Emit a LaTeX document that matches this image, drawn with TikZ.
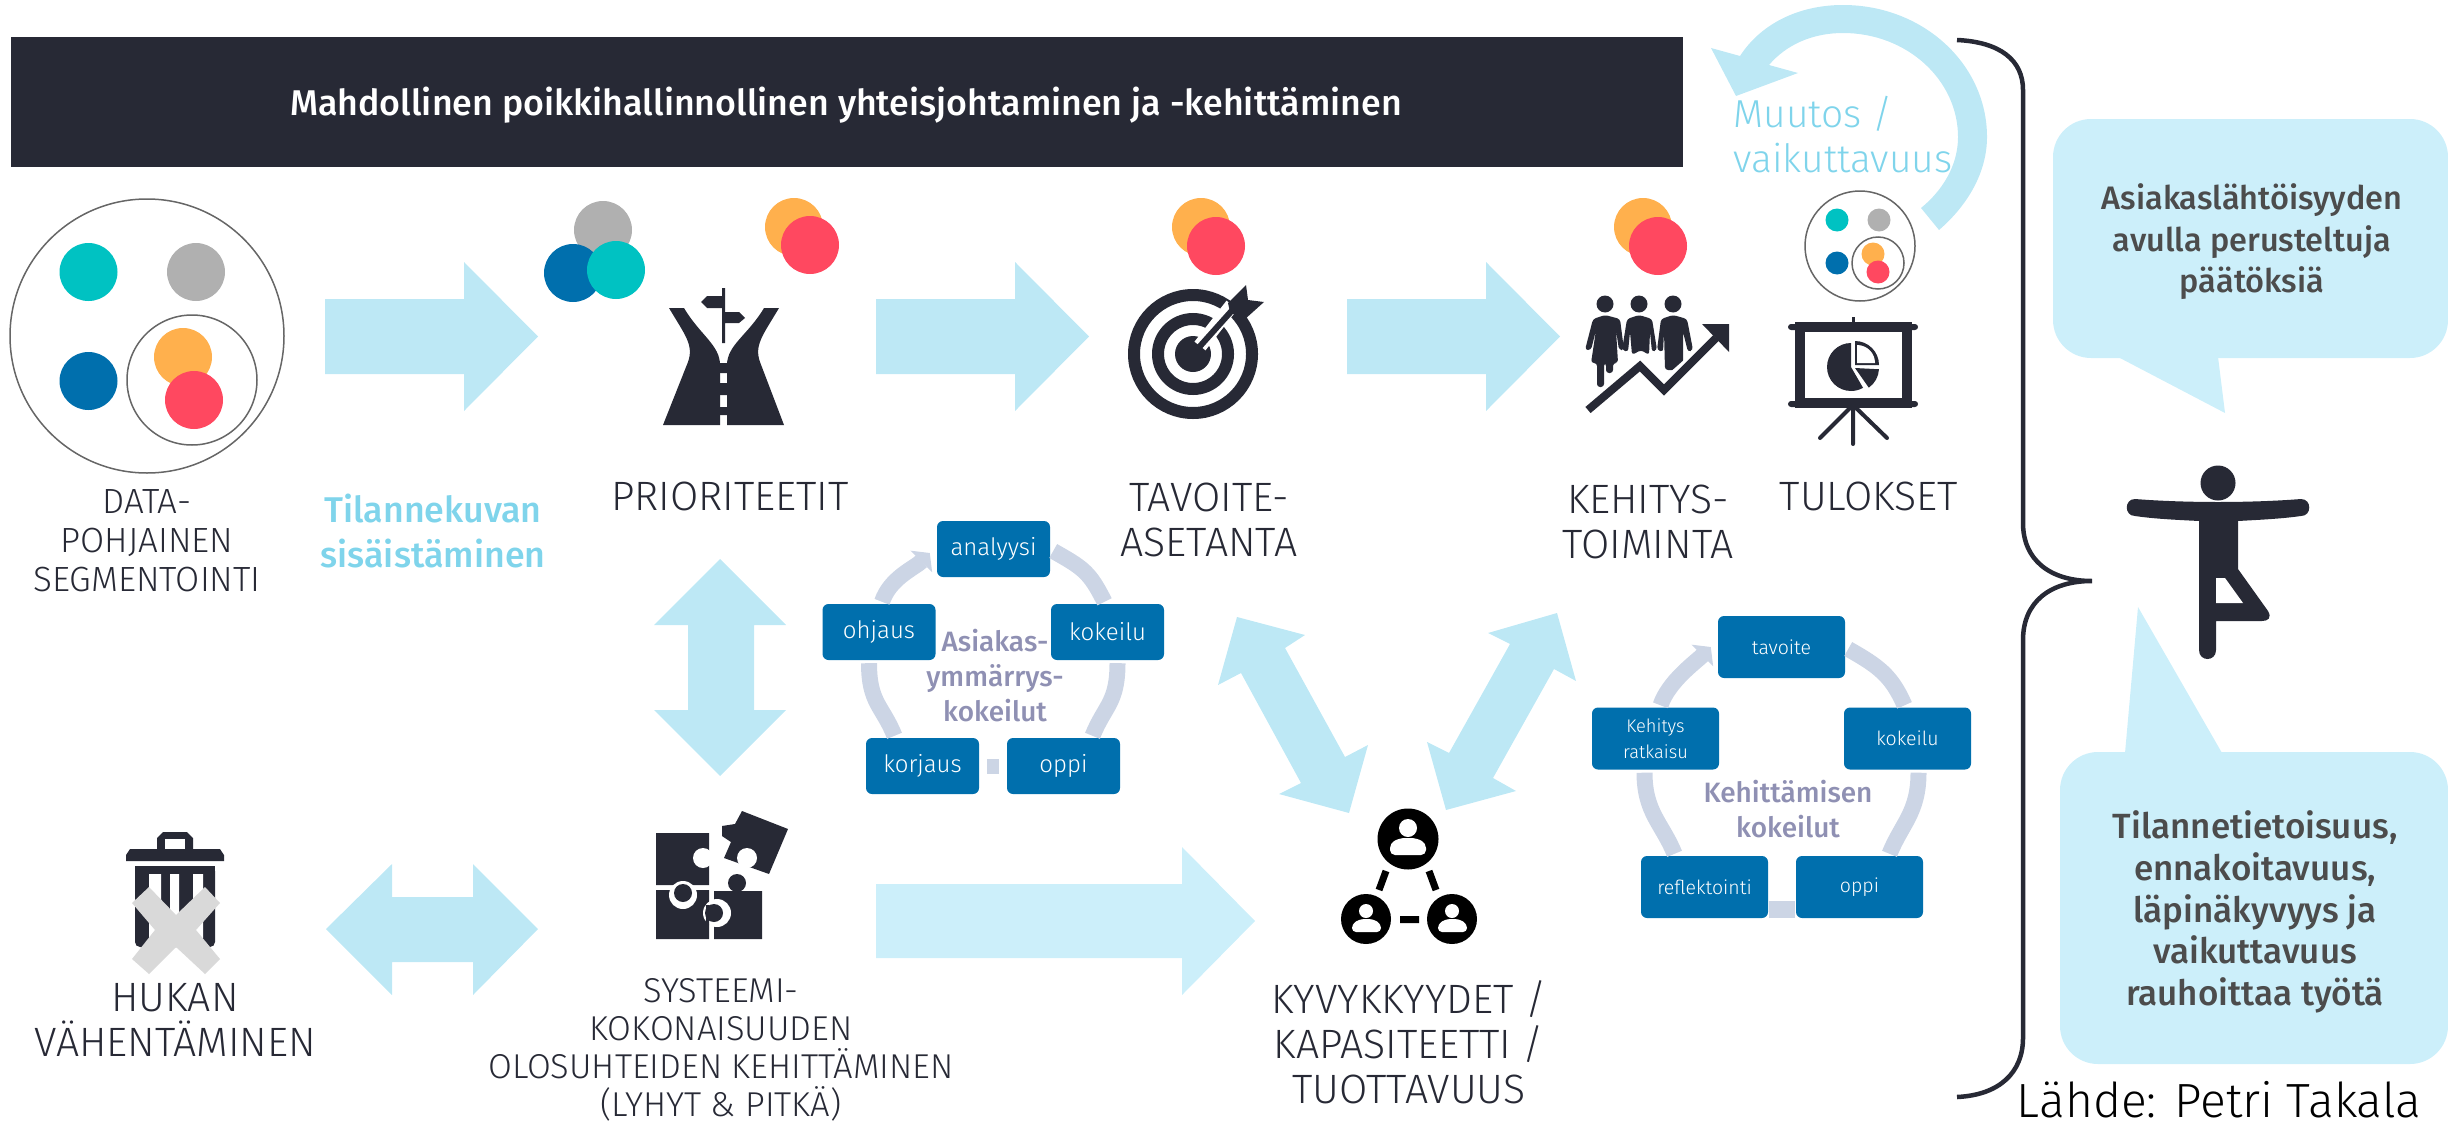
\documentclass[tikz,border=0pt]{standalone}
\usepackage{fontspec}
\setmainfont{Fira Sans}[UprightFont=* Light,BoldFont=* Medium]
\usetikzlibrary{arrows.meta}
\definecolor{navy}{HTML}{272935}
\definecolor{paleblue}{HTML}{BDE8F5}
\definecolor{bubble}{HTML}{CCEFFA}
\definecolor{skytext}{HTML}{7FD4EB}
\definecolor{boxblue}{HTML}{006FAD}
\definecolor{teal}{HTML}{00C2C2}
\definecolor{ashgrey}{HTML}{B0B0B0}
\definecolor{amber}{HTML}{FFB04D}
\definecolor{coral}{HTML}{FF4860}
\definecolor{ring}{HTML}{CCD5E5}
\definecolor{ringtext}{HTML}{8F90B3}
\tikzset{
  lbl/.style={text=navy,align=center,font=\fontsize{35}{39}\selectfont},
  lblbig/.style={text=navy,align=center,font=\fontsize{41}{45}\selectfont},
  sky/.style={text=skytext},
  cycbox/.style={fill=boxblue,rounded corners=6pt,text=white,align=center,inner sep=0pt},
  boxa/.style={cycbox,minimum width=113pt,minimum height=56pt,font=\fontsize{24}{27}\selectfont},
  boxb/.style={cycbox,minimum width=127pt,minimum height=62pt,font=\fontsize{19.5}{26}\selectfont},
  cyctext/.style={text=ringtext,align=center,font=\bfseries\fontsize{28}{35}\selectfont},
  cycarc/.style={draw=ring,line width=16pt},
  balloon/.style={text=black!70,align=center,font=\bfseries\fontsize{32.5}{41.5}\selectfont},
  whiteout/.style={draw=white,line width=14pt},
}
\begin{document}
\begin{tikzpicture}[x=1pt,y=-1pt]
\useasboundingbox (0,0) rectangle (2448,1124);
% header
\fill[navy] (11,37) rectangle (1683,167);
\node[text=white,font=\bfseries\fontsize{35.8}{40}\selectfont] (header) at (846,105) {Mahdollinen poikkihallinnollinen yhteisjohtaminen ja -kehitt\"aminen};
% block arrows
\foreach \xa/\xb/\xc in {325/464/538,876/1015/1089,1347/1486/1560}
  \fill[paleblue] (\xa,299) -- (\xb,299) -- (\xb,262) -- (\xc,336.5) -- (\xb,411) -- (\xb,374) -- (\xa,374) -- cycle;
\fill[bubble] (876,884) -- (1182,884) -- (1182,847) -- (1255,921) -- (1182,995) -- (1182,958) -- (876,958) -- cycle;
\fill[paleblue] (720,559) -- (786,625) -- (754,625) -- (754,710) -- (786,710) -- (720,776) -- (654,710) -- (688,710) -- (688,625) -- (654,625) -- cycle;
\fill[paleblue] (326,929) -- (392,864) -- (392,897) -- (473,897) -- (473,864) -- (538,929) -- (473,995) -- (473,962) -- (392,962) -- (392,995) -- cycle;
\fill[paleblue] (1237,617) -- (1305,635) -- (1285,648) -- (1345,757) -- (1368,745) -- (1349,813) -- (1279,794) -- (1301,783) -- (1241,673) -- (1218,685) -- cycle;
\fill[paleblue] (1557,613) -- (1488,633) -- (1510,644) -- (1449,753) -- (1427,742) -- (1446,810) -- (1516,791) -- (1493,778) -- (1554,669) -- (1576,681) -- cycle;
% return arrow
\fill[paleblue] (1939,230) .. controls (1968,205) and (1987,172) .. (1987,137) .. controls (1987,64) and (1923,5) .. (1843,5) .. controls (1797,5) and (1760,25) .. (1740,56) -- (1711,48) -- (1736,96) -- (1798,73) -- (1769,65) .. controls (1786,45) and (1812,33) .. (1843,33) .. controls (1907,33) and (1958,80) .. (1958,137) .. controls (1958,165) and (1943,190) .. (1921,208) -- cycle;
\node[sky,align=left,font=\fontsize{39}{45}\selectfont] (muutos) at (1843,135) {Muutos /\\vaikuttavuus};
\node[sky,align=center,font=\bfseries\fontsize{35.8}{45}\selectfont] (tilanne) at (433,531) {Tilannekuvan\\sis\"aist\"aminen};
% segments
\draw[black!60,line width=1.5pt] (147,336) circle[radius=137pt] (192,380) circle[radius=65pt];
\foreach \px/\py/\col in {88.5/272/teal,196/272/ashgrey,88.5/381/boxblue,183/357/amber,194/400/coral,603/230/ashgrey,573/273/boxblue,616/270/teal,794/227/amber,810/245/coral,1201/227/amber,1216/246/coral,1643/227/amber,1658/246/coral}
  \fill[\col] (\px,\py) circle[radius=29pt];
\draw[black!60,line width=1.5pt] (1860,246) circle[radius=55pt] (1878,263) circle[radius=26pt];
\foreach \px/\py/\col in {1837/220/teal,1879/220/ashgrey,1837/263/boxblue,1873/254/amber,1878/272/coral}
  \fill[\col] (\px,\py) circle[radius=11.5pt];
% road
\fill[navy] (669,308) -- (684,308) .. controls (700,335) and (720,345) .. (720,365) -- (720,425) -- (663,425) -- (688,362) .. controls (694,345) and (685,335) .. cycle;
\fill[navy] (779,308) -- (764,308) .. controls (748,335) and (727,345) .. (727,365) -- (727,425) -- (784,425) -- (760,362) .. controls (754,345) and (763,335) .. cycle;
\fill[navy] (720,363) rectangle (727,373) (720,383) rectangle (727,395) (720,407) rectangle (727,415);
\fill[navy] (722,288) rectangle (725,343) (722,296) -- (707,296) -- (701,302) -- (707,308) -- (722,308) -- cycle (725,312) -- (739,312) -- (745,318) -- (739,323) -- (725,323) -- cycle;
% target
\draw[navy,line width=12pt] (1193,354) circle[radius=59pt] (1193,354) circle[radius=35pt];
\fill[navy] (1193,354) circle[radius=18pt];
\draw[whiteout] (1200,346) -- (1232,305);
\draw[navy,line width=6pt] (1193,354) -- (1236,306);
\fill[navy] (1228,303) -- (1246,285) -- (1248,300) -- (1264,302) -- (1244,320) -- (1230,312) -- cycle;
% people
\foreach \px in {1605,1639,1673}
  \fill[navy] (\px,304) circle[radius=8.5pt];
\fill[navy,rounded corners=3pt] (1605,315) -- (1620,319) -- (1624,350) -- (1619,350) -- (1616,330) -- (1618,363) -- (1613,363) -- (1613,373) -- (1606,373) -- (1606,363) -- (1604,363) -- (1604,387) -- (1597,387) -- (1597,363) -- (1591,363) -- (1596,330) -- (1591,350) -- (1585,350) -- (1593,319) -- cycle;
\fill[navy,rounded corners=3pt] (1639,315) -- (1652,319) -- (1657,350) -- (1652,352) -- (1650,332) -- (1649,355) -- (1641,350) -- (1632,355) -- (1630,332) -- (1628,352) -- (1622,350) -- (1627,319) -- cycle;
\fill[navy,rounded corners=3pt] (1673,315) -- (1687,319) -- (1693,350) -- (1688,352) -- (1683,332) -- (1683,370) -- (1665,370) -- (1664,332) -- (1663,352) -- (1657,350) -- (1661,319) -- cycle;
\draw[whiteout] (1588,410) -- (1640,362) -- (1664,387) -- (1717,340);
\draw[navy,line width=8pt] (1588,410) -- (1640,366) -- (1664,390) -- (1716,338);
\fill[navy] (1702,324) -- (1729,324) -- (1729,352) -- cycle;
% board
\fill[navy,rounded corners=3pt] (1788,324) rectangle (1918,330) (1788,401) rectangle (1918,407);
\fill[navy] (1851.5,317) rectangle (1855,324);
\draw[navy,line width=10pt] (1800,327) rectangle (1907,403);
\draw[navy,line width=4pt,line cap=round] (1853,405) -- (1853,444) (1853,405) -- (1820,438) (1853,405) -- (1887,438);
\fill[navy] (1851,367) -- ++(90:24pt) arc[start angle=90,end angle=300,radius=24pt] -- cycle;
\fill[navy] (1855,365) -- ++(0:24pt) arc[start angle=0,end angle=90,radius=24pt] -- cycle;
\fill[white] (1857,363) -- ++(0:18pt) arc[start angle=0,end angle=90,radius=18pt] -- cycle;
\fill[navy] (1855,368) -- ++(-3:24pt) arc[start angle=-3,end angle=-55,radius=24pt] -- cycle;
% trash
\fill[navy] (126,861) -- (126,855) -- (130,849) -- (157,849) -- (157,838) -- (163,832) -- (187,832) -- (193,838) -- (193,849) -- (220,849) -- (224,855) -- (224,861) -- cycle;
\fill[white] (165,839) rectangle (185,849);
\fill[navy,rounded corners=5pt] (135,866) -- (215,866) -- (215,947) -- (135,947) -- cycle;
\fill[navy] (135,866) rectangle (215,880);
\fill[white] (149,874) rectangle (161,938) (170,874) rectangle (179,938) (193,874) rectangle (203,938);
\fill[black!15] (149,887) -- (176,915) -- (205,887) -- (220,903) -- (196,930) -- (220,959) -- (205,974) -- (176,947) -- (149,974) -- (132,959) -- (155,930) -- (132,903) -- cycle;
% puzzle
\fill[navy] (656,833) rectangle (709,885) (656,890) rectangle (709,939) (714,891) rectangle (762,939);
\fill[navy] (742,811) -- (788,829) -- (769,874) -- (724,858) -- (731,842) -- (722,836) -- (722,826) -- (735,824) -- cycle;
\fill[white] (703,858) circle[radius=10pt] (747,858) circle[radius=10pt];
\fill[white] (683,895) circle[radius=14pt];
\fill[navy] (683,893) circle[radius=9pt] (737,883) circle[radius=9pt];
\fill[white] (717,913) circle[radius=14pt];
\fill[navy] (714,913) circle[radius=9pt] (706,905) rectangle (709,925);
% network
\fill[black] (1408,839) circle[radius=30.5pt] (1366,919) circle[radius=25pt] (1452,919) circle[radius=25pt];
\fill[white] (1408,828) circle[radius=9pt] (1366,911) circle[radius=7pt] (1452,911) circle[radius=7pt];
\fill[white,rounded corners=5pt] (1390,855) -- (1390,843) -- (1400,838) -- (1416,838) -- (1426,843) -- (1426,855) -- cycle;
\fill[white,rounded corners=4pt] (1352,932) -- (1352,924) -- (1360,919) -- (1373,919) -- (1381,924) -- (1381,932) -- cycle;
\fill[white,rounded corners=4pt] (1438,932) -- (1438,924) -- (1446,919) -- (1459,919) -- (1467,924) -- (1467,932) -- cycle;
\draw[black,line width=7pt] (1386,871) -- (1379,890) (1429,871) -- (1436,890) (1400,919.5) -- (1419,919.5);
% labels
\node[lbl] (data) at (147,541) {DATA-\\POHJAINEN\\SEGMENTOINTI};
\node[lblbig] (prior) at (730,496) {PRIORITEETIT};
\node[lblbig] (tavoite) at (1209,520) {TAVOITE-\\ASETANTA};
\node[lblbig] (kehitys) at (1648,522) {KEHITYS-\\TOIMINTA};
\node[lblbig] (tulokset) at (1869,496) {TULOKSET};
\node[lblbig] (hukka) at (175,1020) {HUKAN\\V\"AHENT\"AMINEN};
\node[lbl,font=\fontsize{34.5}{38}\selectfont] (systeemi) at (721,1050) {SYSTEEMI-\\KOKONAISUUDEN\\OLOSUHTEIDEN KEHITT\"AMINEN\\(LYHYT \& PITK\"A)};
\node[lblbig] (kyvyt) at (1409,1042) {KYVYKKYYDET /\\KAPASITEETTI /\\TUOTTAVUUS};
% customer understanding cycle
\node[boxa] (analyysi) at (993.5,549) {analyysi};
\node[boxa] (ohjaus) at (879,632) {ohjaus};
\node[boxa] (kokeilua) at (1107.5,632) {kokeilu};
\node[boxa] (korjaus) at (922.5,766) {korjaus};
\node[boxa] (oppia) at (1063.5,766) {oppi};
\draw[cycarc] ([xshift=3pt,yshift=-2pt]analyysi.east) .. controls +(30,17) and +(-15,-30) .. ([xshift=-3pt,yshift=2pt]kokeilua.north);
\draw[cycarc] ([xshift=10pt,yshift=-3pt]kokeilua.south) .. controls +(0,40) and +(12,-30) .. ([xshift=29pt,yshift=2pt]oppia.north);
\draw[cycarc,line width=15pt] ([xshift=-8pt]oppia.west) -- ([xshift=8pt]korjaus.east);
\draw[cycarc] ([xshift=-10pt,yshift=-3pt]ohjaus.south) .. controls +(0,40) and +(-12,-30) .. ([xshift=-28pt,yshift=2pt]korjaus.north);
\draw[cycarc,-{Triangle[length=12pt,width=30pt]}] ([xshift=3pt,yshift=2pt]ohjaus.north) .. controls +(8,-24) and +(-15,15) .. ([xshift=-7pt,yshift=-4pt]analyysi.west);
\node[cyctext] (asiakas) at (995,676) {Asiakas-\\ymm\"arrys-\\kokeilut};
% development cycle
\node[boxb] (tavoiteb) at (1781.5,647) {tavoite};
\node[boxb,font=\fontsize{18.3}{25.5}\selectfont] (ratkaisu) at (1655.5,738.5) {Kehitys\\ratkaisu};
\node[boxb] (kokeilub) at (1907.5,738.5) {kokeilu};
\node[boxb] (reflekt) at (1704.5,887) {reflektointi};
\node[boxb] (oppib) at (1859.5,887) {oppi};
\draw[cycarc] ([xshift=3pt,yshift=-2pt]tavoiteb.east) .. controls +(30,17) and +(-13,-30) .. ([xshift=-3pt,yshift=2pt]kokeilub.north);
\draw[cycarc] ([xshift=11pt,yshift=-3pt]kokeilub.south) .. controls +(0,40) and +(12,-30) .. ([xshift=30pt,yshift=2pt]oppib.north);
\draw[cycarc,line width=17pt] ([xshift=-1pt,yshift=9pt]oppib.south west) -- ([xshift=1pt,yshift=9pt]reflekt.south east);
\draw[cycarc] ([xshift=-11pt,yshift=-3pt]ratkaisu.south) .. controls +(0,40) and +(-12,-30) .. ([xshift=-30pt,yshift=2pt]reflekt.north);
\draw[cycarc,-{Triangle[length=12pt,width=30pt]}] ([xshift=5pt,yshift=2pt]ratkaisu.north) .. controls +(8,-24) and +(-15,15) .. ([xshift=-7pt]tavoiteb.west);
\node[cyctext] (kehittaminen) at (1788,809) {Kehitt\"amisen\\kokeilut};
% brace
\draw[navy,line width=4.5pt] (1957,40) .. controls (2000,42) and (2023,60) .. (2023,90) -- (2023,523) .. controls (2023,560) and (2050,581) .. (2092,581) .. controls (2050,581) and (2023,602) .. (2023,640) -- (2023,1038) .. controls (2023,1072) and (2000,1095) .. (1957,1097);
% bubbles
\fill[bubble,rounded corners=38pt] (2053,119) rectangle (2448,358);
\fill[bubble] (2118,357) -- (2225,413) -- (2218,357) -- cycle;
\fill[bubble,rounded corners=38pt] (2060,752) rectangle (2448,1064);
\fill[bubble] (2125,753) -- (2138,607) -- (2222,753) -- cycle;
\node[balloon] (saying) at (2252,242) {Asiakasl\"aht\"oisyyden\\avulla perusteltuja\\p\"a\"at\"oksi\"a};
\node[balloon,font=\bfseries\fontsize{35}{41.7}\selectfont] (calm) at (2255,912) {Tilannetietoisuus,\\ennakoitavuus,\\l\"apin\"akyvyys ja\\vaikuttavuus\\rauhoittaa ty\"ot\"a};
% yoga figure
\fill[navy] (2218,483) circle[radius=17.5pt];
\fill[navy] (2135,499) .. controls (2160,501) and (2190,502) .. (2218,502) .. controls (2246,502) and (2276,501) .. (2301,499) .. controls (2312,499) and (2312,516) .. (2301,516) .. controls (2280,519) and (2255,520) .. (2238,521) -- (2238,569) -- (2268,611) .. controls (2272,618) and (2268,621) .. (2262,621) -- (2216,621) -- (2216,650) .. controls (2216,662) and (2199,662) .. (2199,650) -- (2199,521) .. controls (2180,520) and (2155,519) .. (2135,516) .. controls (2124,516) and (2124,499) .. (2135,499) -- cycle;
\fill[white] (2216,578) -- (2225,578) -- (2243,603) -- (2216,603) -- cycle;
\node[font=\fontsize{48}{52}\selectfont,text=black,anchor=base,inner sep=0pt] (source) at (2219,1117) {L\"ahde: Petri Takala};
\end{tikzpicture}
\end{document}
